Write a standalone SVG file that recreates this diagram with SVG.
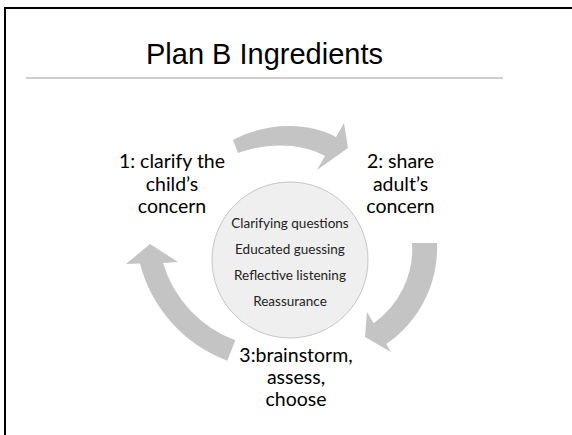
<svg xmlns="http://www.w3.org/2000/svg" width="572" height="435" viewBox="0 0 572 435">
  <style>
    .frame { stroke: #000; stroke-width: 2; fill: none; }
    .rule { stroke: #a0a0a0; stroke-width: 1; }
    .title { font-family: "Liberation Sans", Arial, sans-serif; font-size: 29px; fill: #000; text-anchor: middle; }
    .label { font-family: Lato, "Open Sans", sans-serif; font-size: 19.5px; fill: #000; text-anchor: middle; }
    .inner { font-family: Lato, "Open Sans", sans-serif; font-size: 13.5px; fill: #222; text-anchor: middle; }
    .hub { fill: #efefef; stroke: #c6c6c6; stroke-width: 1; }
    .arrow { fill: #c4c4c4; stroke: none; }
  </style>

  <rect x="0" y="0" width="572" height="435" fill="#fff"/>
  <!-- slide edge: top and left only -->
  <path class="frame" d="M 5 435 L 5 8 L 572 8"/>

  <g id="node-title">
    <text class="title" x="264.5" y="64">Plan B Ingredients</text>
    <line class="rule" x1="26" y1="78" x2="503" y2="78"/>
  </g>

  <g id="connectors">
    <!-- step 1 to step 2 -->
    <path class="arrow" d="M 233,140 C 262,124 305,120 336,137 L 344,123 L 348,148 L 317,170 L 325,156 C 300,142 265,143 238,153 Z"/>
    <!-- step 2 to step 3 -->
    <path class="arrow" d="M 437,243 A 116 116 0 0 1 386.2,344 L 391,352 L 365,337 L 367,312 L 373.7,323.2 A 91 91 0 0 0 412,243 Z"/>
    <!-- step 3 to step 1 -->
    <path class="arrow" d="M 227.2,360.7 A 141 141 0 0 1 140,263.5 L 126,264 L 150,244 L 178,262 L 163,263 A 119 119 0 0 0 235.4,340.3 Z"/>
  </g>

  <g id="node-center">
    <circle class="hub" cx="290" cy="260" r="78"/>
    <text class="inner" x="290" y="228">Clarifying questions</text>
    <text class="inner" x="290" y="254">Educated guessing</text>
    <text class="inner" x="290" y="280">Reflective listening</text>
    <text class="inner" x="290" y="306">Reassurance</text>
  </g>

  <g id="node-step1">
    <text class="label" x="172" y="168">1: clarify the</text>
    <text class="label" x="172" y="190.5">child’s</text>
    <text class="label" x="172" y="213">concern</text>
  </g>

  <g id="node-step2">
    <text class="label" x="400.5" y="168">2: share</text>
    <text class="label" x="400.5" y="190.5">adult’s</text>
    <text class="label" x="400.5" y="213">concern</text>
  </g>

  <g id="node-step3">
    <text class="label" x="296" y="362">3:brainstorm,</text>
    <text class="label" x="296" y="384">assess,</text>
    <text class="label" x="296" y="406">choose</text>
  </g>
</svg>
